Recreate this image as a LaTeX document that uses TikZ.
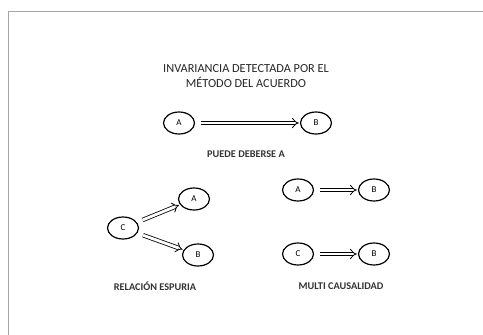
\documentclass[tikz,border=0pt]{standalone}
\usepackage{fontspec}
\setmainfont{Carlito}
\usetikzlibrary{shapes.geometric,arrows.meta}

\tikzset{
    var/.style={ellipse, draw, line width=1.2pt, minimum width=31pt, minimum height=22pt, inner sep=0pt, font=\fontsize{9}{10}\selectfont},
    causa/.style={double, double distance=2.8pt, line width=0.8pt, -{Implies}, shorten <=6pt, shorten >=1pt},
    caption/.style={font=\fontsize{10.3}{12}\selectfont\bfseries, text=black!80}
}

\begin{document}
\begin{tikzpicture}[x=1pt, y=-1pt]
            \useasboundingbox (0,0) rectangle (483,335);
            \draw[gray!70, line width=0.9pt] (8.5,335) -- (8.5,11.5) -- (483,11.5);

            \node[font=\fontsize{12.3}{15}\selectfont, align=center, text=black!85] (titulo) at (246,76)
                {INVARIANCIA DETECTADA POR EL\\MÉTODO DEL ACUERDO};

            \begin{scope}[every node/.style={var}]
                % metodo del acuerdo
                \node (a1) at (179,123) {A};
                \node (b1) at (316,123) {B};

                % relacion espuria
                \node (c2) at (123,228) {C};
                \node (a2) at (194,199) {A};
                \node (b2) at (198,255) {B};

                % multi causalidad
                \node (a3) at (298,190) {A};
                \node (b3) at (374,190) {B};
                \node (c4) at (298,254) {C};
                \node (b4) at (374,254) {B};
            \end{scope}

            \draw[causa] (a1) -- (b1);
            \draw[causa] (c2) -- (a2);
            \draw[causa] (c2) -- (b2);
            \draw[causa] (a3) -- (b3);
            \draw[causa] (c4) -- (b4);

            \node[caption] (puede) at (246,154) {PUEDE DEBERSE A};
            \node[caption] (espuria) at (155,286) {RELACIÓN ESPURIA};
            \node[caption] (multi) at (341,286) {MULTI CAUSALIDAD};
        \end{tikzpicture}
\end{document}
